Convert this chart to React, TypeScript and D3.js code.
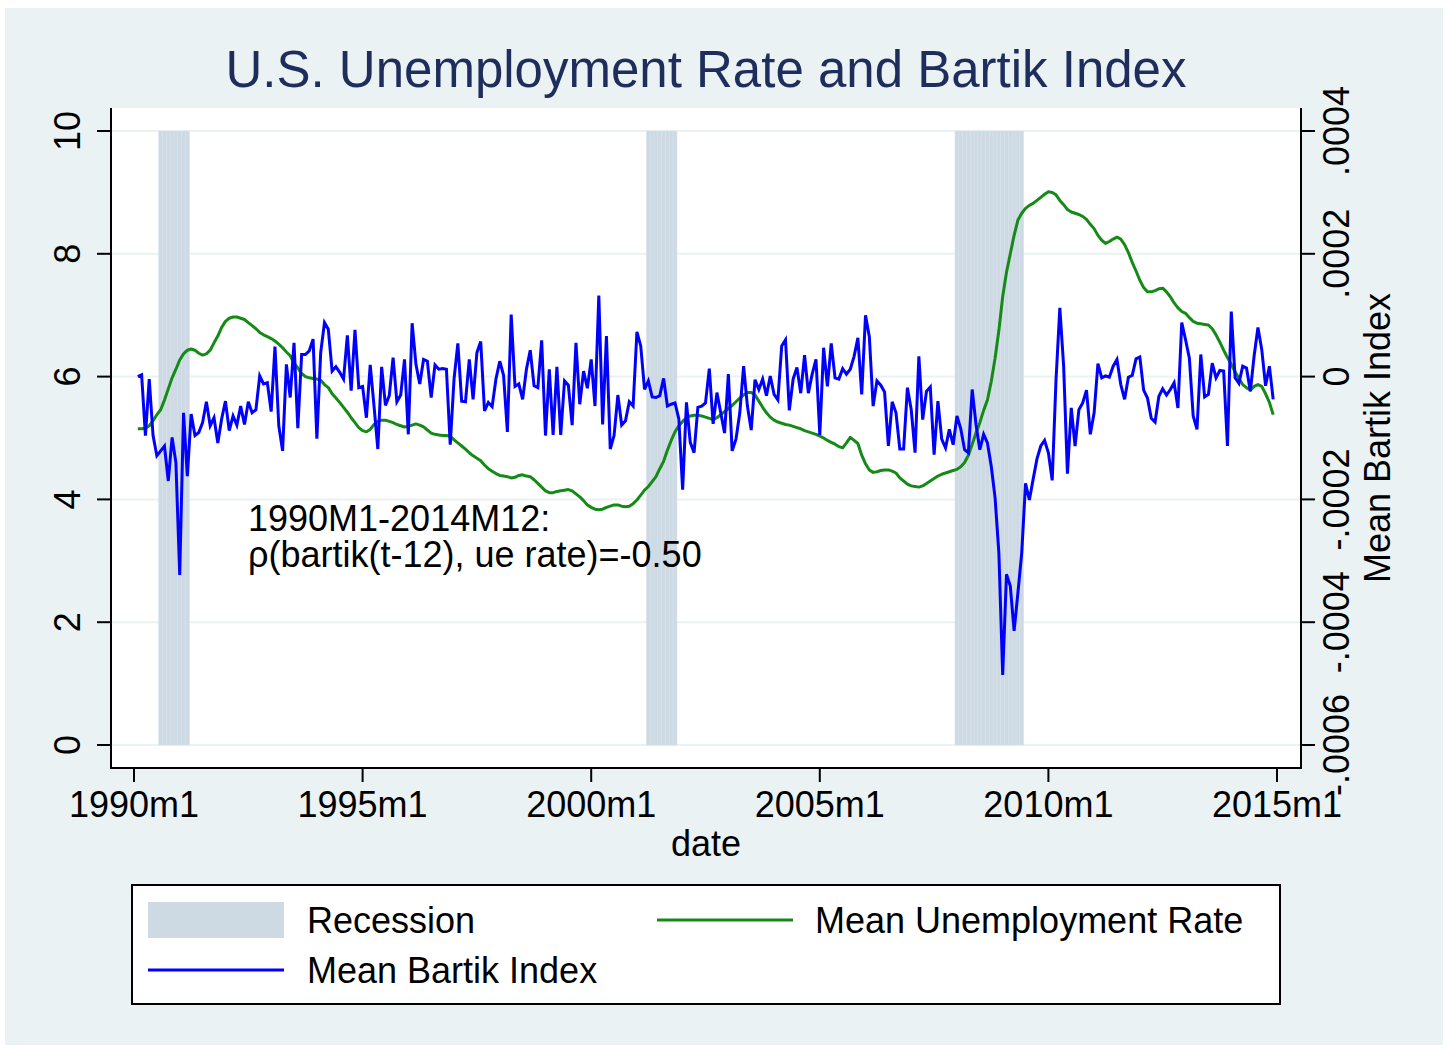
import * as d3 from 'd3';

// Series start at 1990m2 and run monthly to 2014m12 (first row is Feb-Dec 1990).
const START_MONTH = '1990m2';

// Mean unemployment rate (%), one row per year.
const unemploymentRate: number[][] = [
  [5.15, 5.15, 5.16, 5.2, 5.28, 5.38, 5.46, 5.62, 5.8, 5.98, 6.12],
  [6.27, 6.37, 6.43, 6.45, 6.43, 6.38, 6.35, 6.37, 6.43, 6.55, 6.66, 6.8],
  [6.9, 6.95, 6.97, 6.97, 6.95, 6.93, 6.88, 6.83, 6.78, 6.72, 6.68, 6.65],
  [6.62, 6.58, 6.53, 6.47, 6.4, 6.34, 6.22, 6.14, 6.05, 6.0, 5.98, 5.97],
  [5.96, 5.94, 5.87, 5.82, 5.72, 5.65, 5.58, 5.5, 5.42, 5.33, 5.25, 5.17],
  [5.12, 5.1, 5.14, 5.22, 5.27, 5.29, 5.29, 5.27, 5.25, 5.22, 5.2, 5.18],
  [5.19, 5.21, 5.23, 5.21, 5.18, 5.13, 5.08, 5.06, 5.05, 5.04, 5.04, 5.03],
  [4.97, 4.92, 4.87, 4.82, 4.76, 4.71, 4.67, 4.63, 4.56, 4.5, 4.46, 4.42],
  [4.39, 4.38, 4.37, 4.35, 4.36, 4.39, 4.4, 4.38, 4.37, 4.32, 4.26, 4.2],
  [4.14, 4.11, 4.11, 4.13, 4.14, 4.15, 4.16, 4.14, 4.09, 4.04, 3.98, 3.91],
  [3.87, 3.84, 3.83, 3.84, 3.87, 3.89, 3.91, 3.91, 3.89, 3.88, 3.89, 3.93],
  [3.99, 4.07, 4.15, 4.21, 4.29, 4.37, 4.5, 4.62, 4.8, 4.96, 5.1, 5.2],
  [5.27, 5.33, 5.36, 5.37, 5.37, 5.36, 5.34, 5.32, 5.3, 5.33, 5.38, 5.43],
  [5.48, 5.53, 5.59, 5.65, 5.7, 5.74, 5.74, 5.7, 5.6, 5.5, 5.41, 5.34],
  [5.29, 5.26, 5.24, 5.22, 5.21, 5.19, 5.17, 5.15, 5.12, 5.1, 5.08, 5.06],
  [5.03, 5.0, 4.96, 4.93, 4.9, 4.86, 4.84, 4.92, 5.01, 4.96, 4.91, 4.72],
  [4.58, 4.48, 4.44, 4.45, 4.47, 4.48, 4.48, 4.46, 4.43, 4.35, 4.3, 4.25],
  [4.22, 4.21, 4.2, 4.22, 4.26, 4.3, 4.34, 4.38, 4.41, 4.43, 4.45, 4.47],
  [4.49, 4.53, 4.6, 4.72, 4.9, 5.08, 5.25, 5.45, 5.62, 5.92, 6.3, 6.75],
  [7.3, 7.7, 8.0, 8.3, 8.55, 8.66, 8.74, 8.79, 8.82, 8.87, 8.92, 8.97],
  [9.01, 9.0, 8.96, 8.87, 8.8, 8.72, 8.68, 8.66, 8.64, 8.61, 8.56, 8.48],
  [8.41, 8.3, 8.22, 8.17, 8.2, 8.24, 8.27, 8.24, 8.15, 8.02, 7.86, 7.72],
  [7.57, 7.45, 7.38, 7.38, 7.4, 7.43, 7.44, 7.38, 7.3, 7.2, 7.12, 7.06],
  [7.03, 6.96, 6.9, 6.87, 6.86, 6.85, 6.84, 6.78, 6.68, 6.56, 6.43, 6.31],
  [6.2, 6.08, 5.97, 5.87, 5.82, 5.78, 5.84, 5.87, 5.84, 5.72, 5.58, 5.38],
];

// Mean Bartik index, in units of 1e-5, one row per year.
const BARTIK_UNIT = 1e-5;
const bartikIndex: number[][] = [
  [0, 0.3, -9.6, -0.4, -9.6, -12.9, -12.1, -11.3, -17, -9.9, -14],
  [-32.3, -5.9, -16.2, -6.1, -9.6, -9.1, -7.5, -4.1, -8, -6.7, -10.8, -6.9],
  [-4, -8.8, -6.4, -7.9, -4.8, -7.8, -4.1, -5.9, -5.4, 0.1, -1.2, -1],
  [-5.7, 4.9, -8, -12.1, 2, -3.4, 5.5, -8.4, 3.6, 3.6, 4.2, 6.1],
  [-10.1, 3.9, 8.8, 7.7, 0.9, 1.6, 0.7, -0.4, 6.7, -2.3, 7.6, -1.8],
  [-1.6, -6.7, 1.9, -4.8, -11.8, 1.6, -4.7, -3.1, 3.1, -4.1, -3, 2.8],
  [-9.4, 8.7, 2, -1.2, 2.8, 2.5, -3.4, 1.9, 1.2, 1.3, 1.2, -11.1],
  [-0.4, 5.4, -4, -4.1, 2.8, -3.7, 3.9, 5.7, -5.6, -4.2, -4.9, -0.4],
  [2.5, 0.2, -9, 10.1, -1.6, -1.2, -3.7, 1.2, 4.3, -1.5, -1.8, 5.9],
  [-9.6, 1.2, -9.5, 1.6, -9.5, -0.7, -1.4, -7.9, 5.5, -4.5, 0.9, -1.9],
  [2.8, -4.8, 13.2, -7.8, 6.6, -11.8, -9.6, -3, -7.9, -7.2, -4.1, -4.8],
  [7.3, 5, -2.1, -0.7, -3.3, -3.4, -3.1, -0.3, -4.8, -4.5, -4.3, -6.9],
  [-18.4, -4.2, -10.7, -12.4, -5, -4.8, -4.3, 1.3, -7.7, -2.6, -5.9, -9.2],
  [0.4, -12.1, -10.2, -5.9, 1.7, -4.8, -8.7, -0.5, -2.1, -0.4, -3.1, 0.1],
  [-2.9, -3.8, 5, 6, -5.5, -0.4, 1.5, -2.7, 3.5, -2.7, 0.4, 2.8],
  [-9.5, 4.7, -1.6, 5.4, -0.2, -0.4, 1.3, 0.4, 1.2, 3.3, 6.3, -2.9],
  [10, 6.5, -4.8, -0.7, -1.4, -2.5, -11.3, -4.1, -5.9, -11.8, -11.8, -1.8],
  [-5.4, -12.4, 3.3, -7, -2.4, -1.7, -12.7, -4, -10.2, -11.6, -8.6, -11.1],
  [-6.4, -8.5, -11.9, -12.4, -2.1, -7.8, -11.9, -9.4, -10.8, -14.6, -19.7, -28.7],
  [-48.6, -32.2, -34.1, -41.4, -35.2, -28.7, -17.4, -20.1, -16.7, -13.4, -11.3, -10.4],
  [-12.4, -16.9, -0.5, 11.2, 1.7, -15.8, -5.1, -11.3, -5.4, -4.3, -2.2, -9.4],
  [-5.9, 2.1, -0.2, 0.1, -0.1, 1.7, 2.8, -1.3, -3.7, -0.1, 0.2, 2.9],
  [3.2, -2.2, -3.5, -6.8, -7.4, -3.2, -2, -3, -2.1, -1, -5.1, 8.8],
  [6, 3, -6.4, -8.6, 3.6, -3.3, -2.9, 2.2, -0.2, 1, 0.9, -11.3],
  [10.6, -0.2, -1.1, 1.7, 1.4, -2.4, 3.4, 8, 4.4, -1.5, 1.7, -3.7],
];

// NBER recession months (first, last).
const recessions: [string, string][] = [
  ['1990m8', '1991m3'],
  ['2001m4', '2001m11'],
  ['2008m1', '2009m6'],
];

const xTicks = ['1990m1', '1995m1', '2000m1', '2005m1', '2010m1', '2015m1'];
const leftTicks = [0, 2, 4, 6, 8, 10];
const rightTicks = [0.0004, 0.0002, 0, -0.0002, -0.0004, -0.0006];
const rightTickLabels = ['.0004', '.0002', '0', '-.0002', '-.0004', '-.0006'];

const W = 1451;
const H = 1048;
const FONT = "'Liberation Sans', Arial, Helvetica, sans-serif";
const BG = '#eaf2f3';
const GREEN = '#168a16';
const BLUE = '#0000ff';
const RECESSION = '#cdd9e3';

// Stata monthly index: months since 1960m1.
const toMonth = (s: string) => {
  const [y, m] = s.split('m').map(Number);
  return (y - 1960) * 12 + (m - 1);
};

const App = () => {
  const plot = { left: 111, right: 1301, top: 108, bottom: 768 };

  // Axis scales.
  const x = d3.scaleLinear().domain([toMonth('1990m1'), toMonth('2015m1')]).range([134, 1277]);
  const yLeft = d3.scaleLinear().domain([0, 10]).range([745, 131]);
  const yRight = d3.scaleLinear().domain([-0.0006, 0.0004]).range([745, 131]);

  const start = toMonth(START_MONTH);
  const ue = unemploymentRate.flat();
  const bartik = bartikIndex.flat().map((v) => v * BARTIK_UNIT);

  const ueLine = d3
    .line<number>()
    .x((_, i) => x(start + i))
    .y((d) => yLeft(d));
  const bartikLine = d3
    .line<number>()
    .x((_, i) => x(start + i))
    .y((d) => yRight(d));

  // One bar per recession month.
  const recessionMonths = recessions.flatMap(([a, b]) => d3.range(toMonth(a), toMonth(b) + 1));
  const mw = x(1) - x(0);

  const xLabel = (m: number) => `${1960 + Math.floor(m / 12)}m${(m % 12) + 1}`;

  return (
    <svg
      width={W}
      height={H}
      style={{ position: 'absolute', left: 0, top: 0 }}
      fontFamily={FONT}
    >
      <rect x={0} y={0} width={W} height={H} fill="#ffffff" />
      <rect x={5} y={8} width={1438} height={1037} fill={BG} />
      <rect
        x={plot.left}
        y={plot.top}
        width={plot.right - plot.left}
        height={plot.bottom - plot.top}
        fill="#ffffff"
      />

      {/* gridlines */}
      {leftTicks.map((t) => (
        <line
          key={`g${t}`}
          x1={plot.left}
          x2={plot.right}
          y1={yLeft(t)}
          y2={yLeft(t)}
          stroke={BG}
          strokeWidth={2}
        />
      ))}

      {/* recession bars */}
      {recessionMonths.map((m) => (
        <rect
          key={`r${m}`}
          x={x(m) - mw / 2}
          y={yLeft(10)}
          width={mw}
          height={yLeft(0) - yLeft(10)}
          fill={RECESSION}
          stroke="#d7e1ea"
          strokeWidth={0.6}
        />
      ))}

      <path d={ueLine(ue) ?? ''} fill="none" stroke={GREEN} strokeWidth={3} strokeLinejoin="round" />
      <path d={bartikLine(bartik) ?? ''} fill="none" stroke={BLUE} strokeWidth={3} />

      {/* axes */}
      <line x1={plot.left} x2={plot.left} y1={plot.top} y2={plot.bottom + 1} stroke="#000" strokeWidth={2} />
      <line x1={plot.right} x2={plot.right} y1={plot.top} y2={plot.bottom + 1} stroke="#000" strokeWidth={2} />
      <line x1={plot.left} x2={plot.right} y1={plot.bottom} y2={plot.bottom} stroke="#000" strokeWidth={2} />

      {leftTicks.map((t) => (
        <g key={`l${t}`}>
          <line x1={plot.left - 14} x2={plot.left} y1={yLeft(t)} y2={yLeft(t)} stroke="#000" strokeWidth={2} />
          <text
            transform={`translate(80,${yLeft(t)}) rotate(-90)`}
            textAnchor="middle"
            fontSize={36}
            fill="#000"
          >
            {t}
          </text>
        </g>
      ))}

      {rightTicks.map((t, i) => (
        <g key={`rt${i}`}>
          <line x1={plot.right} x2={plot.right + 14} y1={yRight(t)} y2={yRight(t)} stroke="#000" strokeWidth={2} />
          <text
            transform={`translate(1349,${yRight(t)}) rotate(-90)`}
            textAnchor="middle"
            fontSize={36}
            fill="#000"
          >
            {rightTickLabels[i]}
          </text>
        </g>
      ))}

      {xTicks.map((s) => {
        const m = toMonth(s);
        return (
          <g key={s}>
            <line x1={x(m)} x2={x(m)} y1={plot.bottom} y2={plot.bottom + 14} stroke="#000" strokeWidth={2} />
            <text x={x(m)} y={817} textAnchor="middle" fontSize={36} fill="#000">
              {xLabel(m)}
            </text>
          </g>
        );
      })}

      <text x={(plot.left + plot.right) / 2} y={856} textAnchor="middle" fontSize={36} fill="#000">
        date
      </text>
      <text
        transform={`translate(1390,${(plot.top + plot.bottom) / 2}) rotate(-90)`}
        textAnchor="middle"
        fontSize={36}
        fill="#000"
      >
        Mean Bartik Index
      </text>

      {/* title */}
      <text x={706} y={87} textAnchor="middle" fontSize={51} fill="#1e2d5c">
        U.S. Unemployment Rate and Bartik Index
      </text>

      {/* annotation */}
      <text x={248} y={531} fontSize={36} fill="#000">
        1990M1-2014M12:
      </text>
      <text x={248} y={567} fontSize={36} fill="#000">
        ρ(bartik(t-12), ue rate)=-0.50
      </text>

      {/* legend */}
      <rect x={132} y={885} width={1148} height={119} fill="#ffffff" stroke="#000" strokeWidth={2} />
      <rect x={148} y={902} width={136} height={36} fill={RECESSION} />
      <text x={307} y={933} fontSize={36} fill="#000">
        Recession
      </text>
      <line x1={657} x2={793} y1={920} y2={920} stroke={GREEN} strokeWidth={3} />
      <text x={815} y={933} fontSize={36} fill="#000">
        Mean Unemployment Rate
      </text>
      <line x1={148} x2={284} y1={970} y2={970} stroke={BLUE} strokeWidth={3} />
      <text x={307} y={983} fontSize={36} fill="#000">
        Mean Bartik Index
      </text>
    </svg>
  );
};

export default App;
